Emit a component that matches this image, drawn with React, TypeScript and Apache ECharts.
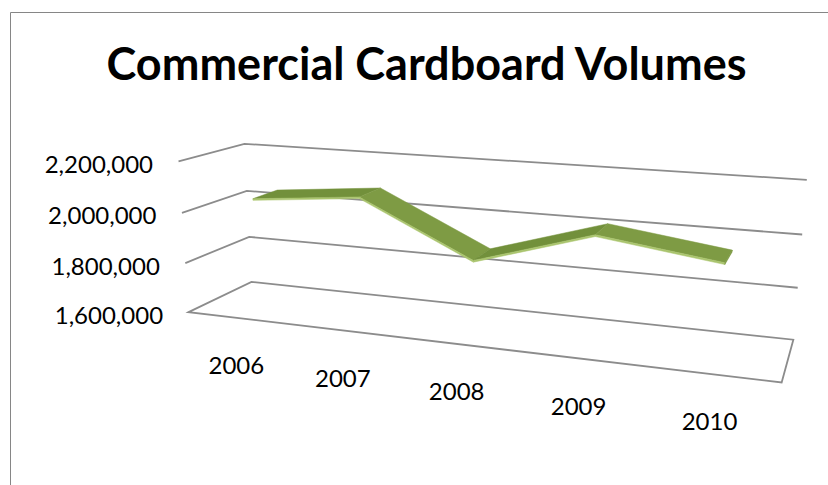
import React, { useEffect, useRef } from "react";
import * as echarts from "echarts";

// ---------- data ----------
const categories = ["2006", "2007", "2008", "2009", "2010"];
const volumes = [2045000, 2085000, 1880000, 2015000, 1955000];
const yTicks = [1600000, 1800000, 2000000, 2200000];
const yMin = 1600000;
const yMax = 2200000;
const yInterval = 200000;
const titleText = "Commercial Cardboard Volumes";

// ---------- 3D box layout (u = category axis, w = value axis, d = depth) ----------
// [u, w, d, screenX, screenY]
const boxCorners = [
  [0, 0, 0, 188, 312],
  [0, 0, 1, 252, 282],
  [1, 0, 1, 793, 340],
  [1, 0, 0, 782, 382],
  [0, 1, 0, 179, 161],
  [0, 1, 1, 244, 144],
  [1, 1, 1, 807, 179],
  [1, 1, 0, 796, 206],
];
const CX = 500, CY = 250, SC = 300;

function fitProjection(corners: number[][]) {
  const n = 11;
  const M: number[][] = Array.from({ length: n }, () => new Array(n + 1).fill(0));
  const addRow = (row: number[], r: number) => {
    for (let i = 0; i < n; i++) {
      for (let j = 0; j < n; j++) M[i][j] += row[i] * row[j];
      M[i][n] += row[i] * r;
    }
  };
  for (const [X, Y, Z, px, py] of corners) {
    const x = (px - CX) / SC;
    const y = (py - CY) / SC;
    addRow([X, Y, Z, 1, 0, 0, 0, 0, -x * X, -x * Y, -x * Z], x);
    addRow([0, 0, 0, 0, X, Y, Z, 1, -y * X, -y * Y, -y * Z], y);
  }
  for (let c = 0; c < n; c++) {
    let piv = c;
    for (let r = c + 1; r < n; r++) if (Math.abs(M[r][c]) > Math.abs(M[piv][c])) piv = r;
    const tmp = M[c]; M[c] = M[piv]; M[piv] = tmp;
    for (let r = 0; r < n; r++) {
      if (r === c) continue;
      const f = M[r][c] / M[c][c];
      for (let k = c; k <= n; k++) M[r][k] -= f * M[c][k];
    }
  }
  return M.map((row, i) => row[n] / row[i]);
}

const P = fitProjection(boxCorners);
function project(u: number, w: number, d: number): number[] {
  const den = P[8] * u + P[9] * w + P[10] * d + 1;
  const xs = (P[0] * u + P[1] * w + P[2] * d + P[3]) / den;
  const ys = (P[4] * u + P[5] * w + P[6] * d + P[7]) / den;
  return [xs * SC + CX, ys * SC + CY];
}

const D0 = 0.3; // ribbon front depth
const D1 = 0.7; // ribbon back depth
const TH = 0.011; // ribbon front edge thickness (value fraction)
const GRID_COLOR = "#8c8c8c";
const FONT = "Lato, 'Open Sans', sans-serif";

const fmt = (v: number) => v.toLocaleString("en-US");

export default function App() {
  const ref = useRef<HTMLDivElement>(null);
  useEffect(() => {
    if (!ref.current) return;
    const chart = echarts.init(ref.current, undefined, { renderer: "svg" });

    const toUW = (cs: any, p: number[]) => [
      (p[0] - cs.x) / cs.width,
      (cs.y + cs.height - p[1]) / cs.height,
    ];

    chart.setOption({
      animation: false,
      backgroundColor: "#ffffff",
      grid: { left: 0, top: 0, width: 100, height: 100, show: false },
      xAxis: { type: "category", data: categories, show: false, boundaryGap: true },
      yAxis: { type: "value", min: yMin, max: yMax, interval: yInterval, show: false },
      graphic: [
        {
          type: "rect",
          shape: { x: 10.5, y: 12.5, width: 840, height: 500 },
          style: { fill: "none", stroke: "#868686", lineWidth: 1 },
          silent: true,
        },
        {
          type: "text",
          x: 426.5,
          y: 62.5,
          style: {
            text: titleText,
            align: "center",
            verticalAlign: "middle",
            fontSize: 45,
            fontWeight: "bold",
            fontFamily: FONT,
            fill: "#000000",
          },
          silent: true,
        },
      ],
      series: [
        {
          type: "custom",
          name: "walls",
          coordinateSystem: "cartesian2d",
          silent: true,
          clip: false,
          z: 1,
          data: yTicks.map((t) => [0, t]),
          encode: { x: 0, y: 1 },
          renderItem: (params: any, api: any) => {
            const cs = params.coordSys;
            const t = api.value(1) as number;
            const w = toUW(cs, api.coord([0, t]))[1];
            const fl = project(0, w, 0);
            const bl = project(0, w, 1);
            const br = project(1, w, 1);
            const children: any[] = [];
            if (Math.abs(w) < 1e-6) {
              const fr = project(1, w, 0);
              children.push({
                type: "polygon",
                shape: { points: [fl, bl, br, fr] },
                style: { fill: "none", stroke: GRID_COLOR, lineWidth: 1.8 },
              });
            } else {
              children.push({
                type: "polyline",
                shape: { points: [fl, bl, br] },
                style: { fill: "none", stroke: GRID_COLOR, lineWidth: 1.8 },
              });
            }
            children.push({
              type: "text",
              x: fl[0] - 25.5,
              y: fl[1] + 2,
              style: {
                text: fmt(t),
                align: "right",
                verticalAlign: "middle",
                fontSize: 24,
                fontFamily: FONT,
                fill: "#000000",
              },
            });
            return { type: "group", children };
          },
        },
        {
          type: "custom",
          name: "categoryLabels",
          coordinateSystem: "cartesian2d",
          silent: true,
          clip: false,
          z: 1,
          data: categories.map((c, i) => [i, yMin]),
          encode: { x: 0, y: 1 },
          renderItem: (params: any, api: any) => {
            const cs = params.coordSys;
            const i = params.dataIndex;
            const uw = toUW(cs, api.coord([i, yMin]));
            const p = project(uw[0], 0, 0);
            return {
              type: "text",
              x: p[0] - 3,
              y: p[1] + 46.5,
              style: {
                text: categories[i],
                align: "center",
                verticalAlign: "middle",
                fontSize: 24,
                fontFamily: FONT,
                fill: "#000000",
              },
            };
          },
        },
        {
          type: "custom",
          name: "Volumes",
          coordinateSystem: "cartesian2d",
          silent: true,
          clip: false,
          z: 3,
          data: volumes.map((v, i) => [i, v]),
          encode: { x: 0, y: 1 },
          renderItem: (params: any, api: any) => {
            const cs = params.coordSys;
            const i = params.dataIndex;
            const a = toUW(cs, api.coord([i, api.value(1)]));
            if (i >= volumes.length - 1) {
              const F = project(a[0], a[1], D0);
              const B = project(a[0], a[1], D1);
              const G = project(a[0], a[1] - TH, D0);
              const H = project(a[0], a[1] - TH, D1);
              return {
                type: "polygon",
                shape: { points: [B, F, G, H] },
                style: { fill: "#7B9840", stroke: "#7B9840", lineWidth: 0.5 },
              };
            }
            const b = toUW(cs, api.coord([i + 1, volumes[i + 1]]));
            const F0 = project(a[0], a[1], D0);
            const F1 = project(b[0], b[1], D0);
            const B0 = project(a[0], a[1], D1);
            const B1 = project(b[0], b[1], D1);
            const G0 = project(a[0], a[1] - TH, D0);
            const G1 = project(b[0], b[1] - TH, D0);
            const rising = volumes[i + 1] > volumes[i];
            const topColor = rising ? "#72903B" : "#7E9B44";
            const frontColor = "#AAC56E";
            return {
              type: "group",
              children: [
                {
                  type: "polygon",
                  shape: { points: [F0, F1, B1, B0] },
                  style: { fill: topColor, stroke: topColor, lineWidth: 0.5 },
                },
                {
                  type: "polygon",
                  shape: { points: [F0, F1, G1, G0] },
                  style: { fill: frontColor, stroke: frontColor, lineWidth: 0.5 },
                },
              ],
            };
          },
        },
      ],
    });
    return () => chart.dispose();
  }, []);

  return (
    <div
      ref={ref}
      style={{ position: "absolute", left: 0, top: 0, width: 828, height: 485, background: "#fff" }}
    />
  );
}
